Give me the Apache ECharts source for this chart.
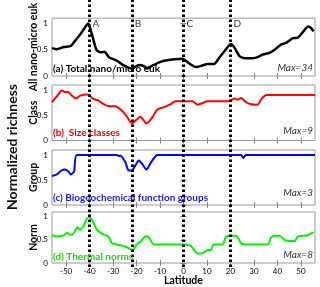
<!DOCTYPE html>
<html><head><meta charset="utf-8">
<script src="https://cdn.jsdelivr.net/npm/echarts@6/dist/echarts.min.js"></script>
<style>html,body{margin:0;padding:0;background:#fff}#c{width:320px;height:287px}</style>
</head><body><div id="c"></div><script>
// ---- data ----
const latTicks = [-50,-40,-30,-20,-10,0,10,20,30,40,50];
const yTicks = [0,0.5,1];
const markerLat = [-40,-22,0,20];
const markerNames = ['A','B','C','D'];

const totalLat = [-56,-54,-51,-48,-46,-44,-42,-40.6,-40,-38.6,-37,-35,-33.7,-31.6,-28.7,-25.8,-22,-19,-17,-15.5,-12.7,-9.8,-7,-4,-0.5,2.4,5.3,8,10.3,13,15.3,17.4,20.2,21.7,23.8,26,29.5,31.6,33.8,36.6,38.8,41.6,43.7,46.6,48.7,50.9,53,54.4,55.4];
const totalVal = [0.53,0.51,0.55,0.57,0.68,0.79,0.92,1.0,0.95,0.73,0.49,0.45,0.46,0.35,0.30,0.21,0.14,0.21,0.19,0.15,0.21,0.27,0.30,0.32,0.33,0.24,0.17,0.20,0.23,0.23,0.35,0.47,0.61,0.54,0.38,0.34,0.34,0.36,0.41,0.44,0.50,0.60,0.63,0.72,0.73,0.84,0.94,0.91,0.85];

const classLat = [-56,-53.3,-51.9,-50.4,-49,-47.6,-45.7,-44,-41,-40,-38.6,-36.2,-34,-31.9,-29,-26,-24,-22,-20,-18.4,-15.8,-13.4,-11.2,-8.4,-5.8,-3.4,0,3.8,6,8,10.3,19.5,21.7,23,24.5,26.6,28.8,31.6,33,35.2,56];
const classVal = [0.76,0.91,0.99,0.96,0.96,0.89,0.83,0.89,0.91,0.89,0.83,0.79,0.72,0.68,0.68,0.58,0.47,0.34,0.41,0.47,0.34,0.45,0.61,0.66,0.71,0.78,0.78,0.78,0.71,0.74,0.78,0.78,0.83,0.81,0.84,0.76,0.72,0.71,0.81,0.90,0.90];

const groupLat = [-56,-54,-52,-50.4,-49,-48,-46.6,-45.4,-28.3,-27.6,-27,-24.8,-23.4,-22,-20.5,-19.1,-17.7,-15.8,-14.1,-12.7,-11.2,24.5,25.5,26.5,56];
const groupVal = [0.58,0.61,0.69,0.71,0.67,0.61,0.67,1,1,0.98,0.99,0.86,0.69,0.69,0.79,0.89,0.83,0.71,0.83,0.93,1,1,0.94,1,1];

const normLat = [-56,-53.3,-51,-49.7,-48.3,-46.6,-45.2,-44,-42.6,-41.2,-40,-38.6,-36.9,-34.7,-32,-30.5,-28.3,-25.5,-22.6,-21.5,-20,-18.4,-15.8,-14.4,-12.7,0,3.1,5.3,6.7,8.8,10.3,11.7,12.7,13.8,16.7,18.1,20.2,22.4,24.5,26,35.9,37.3,38.8,40.9,43,44.4,47.3,48.7,50.9,52.3,54.4,55.4];
const normVal = [0.6,0.57,0.6,0.65,0.61,0.65,0.77,0.72,0.8,0.95,0.99,0.9,0.72,0.63,0.57,0.43,0.4,0.37,0.3,0.28,0.4,0.46,0.58,0.53,0.4,0.4,0.37,0.23,0.2,0.23,0.28,0.28,0.4,0.4,0.4,0.57,0.59,0.59,0.43,0.4,0.4,0.55,0.59,0.59,0.5,0.48,0.47,0.57,0.59,0.59,0.64,0.66];

const panelNames = ['All nano-micro euk','Class','Group','Norm'];
const panelLabels = ['(a) Total nano/micro euk','(b)  Size classes','(c) Biogeochemical function groups','(d) Thermal norms'];
const maxLabels = ['Max=34','Max=9','Max=3','Max=8'];
const colors = ['#000000','#ff0000','#0000ff','#00f000'];
const labelColors = ['#000000','#e00000','#1a1acc','#22cc22'];

// ---- layout ----
const FONT = 'Lato';
const grids = [
  {left:52,right:5,top:9,height:67},
  {left:52,right:5,top:85,height:55.5},
  {left:52,right:5,top:150,height:55},
  {left:52,right:5,top:212,height:55}
];
const labelTops = [64,128,193,252];
const maxTops = [63,126,188,250];

const series = [];
const xAxis = [], yAxis = [];
const lats = [totalLat,classLat,groupLat,normLat];
const vals = [totalVal,classVal,groupVal,normVal];

grids.forEach((g,i)=>{
  xAxis.push({gridIndex:i,type:'value',min:-56,max:56,position:'bottom',
    axisLine:{show:false},splitLine:{show:false},
    axisTick:{show:true,inside:true,length:3,lineStyle:{color:'#888'},customValues:latTicks},
    axisLabel:{show:i===3,customValues:latTicks,fontSize:8,color:'#000',margin:4,fontFamily:FONT},
    name:i===3?'Latitude':'',nameLocation:'middle',nameGap:12,nameMoveOverlap:false,
    nameTextStyle:{fontSize:10.5,fontWeight:'bold',color:'#000',fontFamily:FONT}});
  xAxis.push({gridIndex:i,type:'value',min:-56,max:56,position:'top',
    axisLine:{show:false},splitLine:{show:false},axisLabel:{show:false},
    axisTick:{show:true,inside:true,length:3,lineStyle:{color:'#888'},customValues:latTicks}});
  yAxis.push({gridIndex:i,type:'value',min:0,max:1.1,position:'left',
    axisLine:{show:false},splitLine:{show:false},
    axisTick:{show:true,inside:true,length:3,lineStyle:{color:'#888'},customValues:yTicks},
    axisLabel:{customValues:yTicks,fontSize:8,color:'#000',margin:4,fontFamily:FONT},
    name:panelNames[i],nameLocation:'middle',nameGap:13,nameMoveOverlap:false,nameRotate:90,
    nameTextStyle:{fontSize:10.5,fontWeight:'bold',color:'#000',fontFamily:FONT}});
  yAxis.push({gridIndex:i,type:'value',min:0,max:1.1,position:'right',
    axisLine:{show:false},splitLine:{show:false},axisLabel:{show:false},
    axisTick:{show:true,inside:true,length:3,lineStyle:{color:'#888'},customValues:yTicks}});
  series.push({type:'line',xAxisIndex:2*i,yAxisIndex:2*i,
    data:lats[i].map((x,k)=>[x,vals[i][k]]),
    showSymbol:false,smooth:0.2,silent:true,
    lineStyle:{color:colors[i],width:i===0?2.5:2}});
});

// overlay grid for dotted latitude markers
const overlay = {left:52,right:5,top:0,height:267,show:false};
xAxis.push({gridIndex:4,type:'value',min:-56,max:56,show:false});
yAxis.push({gridIndex:4,type:'value',min:0,max:1,show:false});
series.push({type:'line',xAxisIndex:8,yAxisIndex:8,data:[],silent:true,z:5,
  markLine:{silent:true,symbol:['none','none'],label:{show:false},
    lineStyle:{color:'#000',width:3,type:[2.5,2.5],cap:'butt'},
    data:markerLat.map(x=>({xAxis:x}))}});
// marker letters
series.push({type:'scatter',xAxisIndex:0,yAxisIndex:0,symbolSize:0,silent:true,
  data:markerLat.map(x=>[x,1.0]),
  label:{show:true,position:'right',distance:3,fontSize:10,color:'#000',fontFamily:FONT,
    formatter:p=>markerNames[p.dataIndex]}});

const gridOpts = grids.map(g=>Object.assign({show:true,borderColor:'#999',borderWidth:1,backgroundColor:'transparent'},g));
gridOpts.push(overlay);

const titles = [];
panelLabels.forEach((t,i)=>{
  titles.push({text:t,left:53,top:labelTops[i],padding:0,
    textStyle:{fontSize:10,fontWeight:'bold',color:labelColors[i],fontFamily:FONT}});
  titles.push({text:maxLabels[i],right:7,top:maxTops[i],padding:0,
    textStyle:{fontSize:10,fontWeight:'normal',fontStyle:'italic',color:'#333',fontFamily:FONT}});
});

const chart = echarts.init(document.getElementById('c'),null,{renderer:'canvas'});
chart.setOption({
  animation:false,
  backgroundColor:'#fff',
  title:titles,
  grid:gridOpts,
  xAxis:xAxis,
  yAxis:yAxis,
  series:series,
  graphic:[{type:'text',x:12,y:147,rotation:Math.PI/2,
    style:{text:'Normalized richness',fontSize:14,fontWeight:'bold',fill:'#111',fontFamily:FONT,
      textAlign:'center',textVerticalAlign:'middle'}}]
});
</script></body></html>
